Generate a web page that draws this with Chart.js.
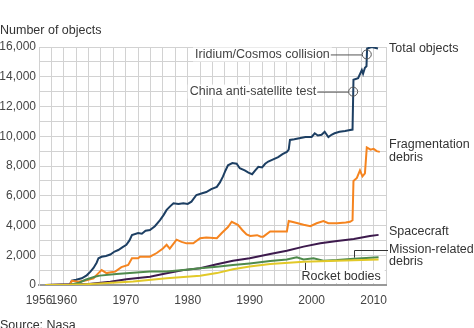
<!DOCTYPE html>
<html>
<head>
<meta charset="utf-8">
<script src="https://cdn.jsdelivr.net/npm/chart.js@4"></script>
<style>
html,body{margin:0;padding:0;background:#fff;}
#wrap{width:474px;height:328px;position:relative;}
</style>
</head>
<body>
<div id="wrap"><canvas id="c" width="474" height="328"></canvas></div>
<script>
// ---- data ----
const xTickLabels = [1956, 1960, 1970, 1980, 1990, 2000, 2010];
const yTickLabels = [0, 2000, 4000, 6000, 8000, 10000, 12000, 14000, 16000];

const totalYears = [1957,1961,1961.3,1962,1962.9,1963.7,1964.3,1964.8,1965.3,1965.6,1966.1,1966.8,1967.5,1968.2,1968.8,1969.5,1970.1,1970.6,1971,1972,1972.6,1973.2,1973.9,1974.7,1975.5,1976.1,1976.6,1977.2,1977.7,1978.5,1979.3,1980,1980.6,1981.4,1982.2,1983,1983.8,1984.7,1985.2,1985.7,1986.1,1986.5,1987.2,1987.9,1988.4,1989.2,1989.8,1990.4,1990.9,1991.4,1992,1992.5,1993,1993.8,1994.6,1995.3,1996,1996.3,1996.5,1997.2,1997.8,1999,2000,2000.5,2001,2001.6,2002.1,2002.7,2003.2,2003.7,2004.5,2005.4,2006,2006.6,2006.75,2007.5,2008.1,2008.3,2008.6,2008.85,2008.95,2009.7,2010.7];
const totalValues = [0,50,300,350,450,650,900,1150,1500,1800,1900,1950,2050,2250,2350,2550,2700,3000,3350,3500,3450,3650,3700,3950,4350,4700,5050,5300,5500,5450,5500,5450,5600,6050,6150,6250,6450,6600,6900,7300,7700,8050,8200,8150,7850,7700,7550,7450,7700,7950,7900,8150,8300,8450,8600,8800,8950,9100,9750,9800,9850,9950,9950,10200,10050,10100,10300,9950,10100,10200,10300,10350,10400,10450,13800,13900,14450,14200,14600,14700,15900,16000,15900];

const fragYears = [1957,1961,1961.3,1962.3,1963.5,1964.8,1965.6,1966.1,1966.9,1967.6,1968.3,1969.3,1970.4,1971,1972,1972.3,1973.9,1975,1976,1976.6,1977.1,1978.2,1979,1979.8,1980.9,1982,1983,1984.7,1985.5,1986.5,1987.1,1988.1,1988.8,1989.5,1990.1,1991.2,1991.8,1992.2,1993.3,1996,1996.3,1997.3,1998.7,1999.8,2000.8,2001.9,2002.7,2004.1,2005.5,2006.2,2006.6,2006.75,2007.3,2007.8,2008.2,2008.6,2008.9,2009.5,2010,2010.5,2011];
const fragValues = [0,30,280,220,300,450,800,1000,800,850,900,1200,1350,1800,1800,1900,1900,2150,2450,2700,2450,3050,2900,2800,2800,3150,3200,3150,3500,3900,4250,4050,3700,3400,3300,3350,3250,3250,3600,3600,4300,4200,4050,3950,4150,4300,4150,4150,4200,4250,4350,7000,7200,7700,7300,7500,9250,9100,9150,9000,8950];

const craftYears = [1957,1961,1964,1967.5,1970.1,1973.9,1976.6,1979.3,1982,1984.7,1987.3,1990,1993.3,1996,1998.7,2001.4,2004.1,2006.8,2009.4,2010.8];
const craftValues = [0,20,60,220,380,560,790,1000,1120,1400,1630,1800,2080,2300,2580,2800,2960,3100,3290,3370];

const missionYears = [1957,1961,1962.5,1963.5,1965,1965.8,1968.5,1971.2,1973.9,1976.6,1979.3,1982,1984.7,1987.3,1990,1993.3,1996,1997.6,1998.7,2000.3,2001.9,2004.1,2006.8,2010.8];
const missionValues = [0,20,150,350,550,630,740,830,900,900,1010,1120,1230,1340,1450,1610,1720,1860,1720,1790,1630,1680,1770,1860];

const rocketYears = [1957,1961,1963,1965.8,1968.5,1971.2,1976.6,1982,1984.7,1987.3,1990,1993.3,1998.7,2004.1,2010.8];
const rocketValues = [0,10,40,100,160,230,450,620,800,1060,1250,1410,1570,1630,1720];

const seriesNames = ['Total objects', 'Fragmentation debris', 'Spacecraft', 'Mission-related debris', 'Rocket bodies'];
const events = ['Iridium/Cosmos collision', 'China anti-satellite test'];
const eventYears = [2008.9, 2006.7];
const eventValues = [15500, 13000];

// ---- build ----
const pts = (xs, ys) => xs.map((x, i) => ({x: x, y: ys[i]}));
const FONT = '"Liberation Sans", Arial, Helvetica, sans-serif';
const TXT = '#333';

const ds = (label, xs, ys, color) => ({label, data: pts(xs, ys), borderColor: color, borderWidth: 2, pointRadius: 0, tension: 0, fill: false});

const overlay = {
  id: 'overlay',
  afterDraw(chart) {
    const ctx = chart.ctx, xs = chart.scales.x, ys = chart.scales.y, a = chart.chartArea;
    ctx.save();
    ctx.font = '12.5px ' + FONT;
    ctx.textBaseline = 'middle';
    // axis title and source
    ctx.fillStyle = TXT;
    ctx.textAlign = 'left';
    ctx.fillText('Number of objects', 0, 31);
    ctx.fillText('Source: Nasa', 0, 326);
    // events
    for (let i = 0; i < events.length; i++) {
      const cx = xs.getPixelForValue(eventYears[i]), cy = ys.getPixelForValue(eventValues[i]);
      const w = ctx.measureText(events[i]).width;
      const tx = cx - 37;
      ctx.fillStyle = '#fff';
      ctx.fillRect(tx - w - 2, cy - 7, w + 4, 14);
      ctx.fillStyle = '#444';
      ctx.textAlign = 'right';
      ctx.fillText(events[i], tx, cy);
      ctx.strokeStyle = '#555';
      ctx.lineWidth = 1;
      ctx.beginPath();
      ctx.moveTo(tx + 1, cy + 0.5); ctx.lineTo(cx - 4.5, cy + 0.5);
      ctx.stroke();
      ctx.beginPath();
      ctx.arc(cx, cy, 4.5, 0, Math.PI * 2);
      ctx.stroke();
    }
    // right labels
    ctx.fillStyle = TXT;
    ctx.textAlign = 'left';
    const rx = a.right + 3;
    ctx.fillText('Total objects', rx, 49);
    ctx.fillText('Fragmentation', rx, 145);
    ctx.fillText('debris', rx, 158);
    ctx.fillText('Spacecraft', rx, 232);
    ctx.fillText('Mission-related', rx, 250);
    ctx.fillText('debris', rx, 262);
    // mission leader
    ctx.strokeStyle = '#333';
    ctx.lineWidth = 1;
    const mx = Math.round(xs.getPixelForValue(2006.8)) + 0.5;
    ctx.beginPath();
    ctx.moveTo(mx, ys.getPixelForValue(1770) - 1);
    ctx.lineTo(mx, 250.5);
    ctx.lineTo(a.right + 2, 250.5);
    ctx.stroke();
    // rocket bodies label
    const rbx = Math.round(xs.getPixelForValue(1998.9)) + 0.5;
    const rw = ctx.measureText('Rocket bodies').width;
    ctx.fillStyle = '#fff';
    ctx.fillRect(rbx - 4, a.bottom - 15, rw + 4, 13);
    ctx.fillStyle = TXT;
    ctx.fillText('Rocket bodies', rbx - 4, a.bottom - 8);
    ctx.beginPath();
    ctx.moveTo(rbx, ys.getPixelForValue(1560) + 1);
    ctx.lineTo(rbx, a.bottom - 15);
    ctx.stroke();
    ctx.restore();
  }
};

new Chart(document.getElementById('c'), {
  type: 'line',
  data: {
    datasets: [
      ds(seriesNames[4], rocketYears, rocketValues, '#e2c928'),
      ds(seriesNames[3], missionYears, missionValues, '#4f8a4c'),
      ds(seriesNames[2], craftYears, craftValues, '#3d1a4d'),
      ds(seriesNames[1], fragYears, fragValues, '#f5841f'),
      ds(seriesNames[0], totalYears, totalValues, '#1d3f63')
    ]
  },
  options: {
    responsive: false,
    animation: false,
    events: [],
    layout: {padding: {top: 47, right: 88, left: 0, bottom: 0}},
    plugins: {legend: {display: false}, tooltip: {enabled: false}},
    scales: {
      x: {
        type: 'linear', min: 1956, max: 2012,
        afterFit: s => { s.height = 43; },
        ticks: {
          stepSize: 2, autoSkip: false, maxRotation: 0, padding: 8,
          font: {family: FONT, size: 12}, color: '#444',
          callback: v => xTickLabels.includes(v) ? String(v) : ''
        },
        grid: {color: '#d2d2d2', drawTicks: false},
        border: {color: '#999', width: 2}
      },
      y: {
        min: 0, max: 16000,
        afterFit: s => { s.width = 39; },
        ticks: {
          stepSize: 1000, padding: 3, autoSkip: false,
          font: {family: FONT, size: 12}, color: '#444',
          callback: v => yTickLabels.includes(v) ? v.toLocaleString('en-US') : ''
        },
        grid: {color: '#d2d2d2', drawTicks: false},
        border: {color: '#d2d2d2', width: 1}
      }
    }
  },
  plugins: [overlay]
});
</script>
</body>
</html>
